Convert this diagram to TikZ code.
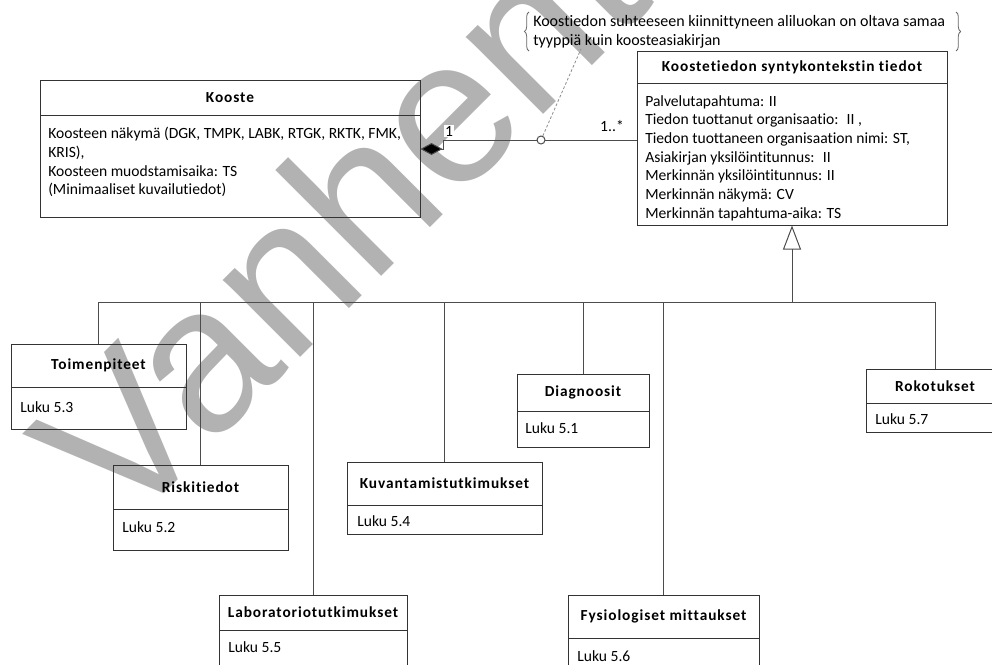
\documentclass[tikz,border=0pt]{standalone}
\usepackage{fontspec}
\setmainfont{Carlito}[Ligatures=NoCommon]
\newfontfamily\titlefont{Carlito}[Ligatures=NoCommon, LetterSpace=6]
\newfontfamily\wmfont{Liberation Sans}
\usetikzlibrary{arrows.meta,fit,decorations.pathreplacing}
\tikzset{
  classbox/.style={draw=black!80, line width=0.75pt, inner sep=0pt},
  classline/.style={draw=black!80, line width=0.75pt},
  titletext/.style={font=\titlefont\bfseries\fontsize{11.5}{14}\selectfont, inner sep=0pt},
  bodytext/.style={font=\fontsize{11.7}{14}\selectfont, align=left, inner sep=0pt, anchor=north west},
  notetext/.style={font=\fontsize{12}{14.5}\selectfont, align=left, inner sep=0pt, anchor=north west},
  lukutext/.style={font=\fontsize{11.7}{14}\selectfont, inner sep=0pt, anchor=west},
  conn/.style={draw=black!70, line width=0.75pt},
  dashline/.style={draw=black!45, line width=0.6pt, dash pattern=on 2pt off 1.5pt},
  bracestyle/.style={draw=black!60, line width=0.6pt, decorate, decoration={brace, amplitude=3.5pt}},
  mult/.style={font=\fontsize{11.7}{14}\selectfont, inner sep=1pt, fill=white},
  watermark/.style={font=\wmfont\fontsize{155}{155}\selectfont, text=black!30, rotate=45, anchor=base west, inner sep=0pt}
}
\newcommand{\umlclass}[7]{%
  \node[classbox, fit={(#2,#3) (#4,#5)}] (#1) {};
  \draw[classline] (#2,#6) -- (#4,#6);
  \node[titletext] (#1-title) at ({(#2+#4)/2},{(#3+#6)/2}) {#7};
}
\begin{document}
\begin{tikzpicture}[x=0.75pt, y=-0.75pt]
\useasboundingbox (0,0) rectangle (992,664);
\clip (0,0) rectangle (992,664);
% watermark
\node[watermark] (wm) at (122,536) {Vanhentunut};

% main classes
\umlclass{kooste}{40}{80}{420}{217}{115}{Kooste}
\node[bodytext] (kooste-body) at (48,127) {Koosteen näkymä (DGK, TMPK, LABK, RTGK, RKTK, FMK,\\KRIS),\\Koosteen muodstamisaika: TS\\(Minimaaliset kuvailutiedot)};

\umlclass{syn}{637}{51}{947}{225}{83}{Koostetiedon syntykontekstin tiedot}
\node[bodytext] (syn-body) at (645,95) {Palvelutapahtuma: II\\Tiedon tuottanut organisaatio:~ II ,\\Tiedon tuottaneen organisaation nimi: ST,\\Asiakirjan yksilöintitunnus:~ II\\Merkinnän yksilöintitunnus: II\\Merkinnän näkymä: CV\\Merkinnän tapahtuma-aika: TS};

% subclasses
\umlclass{toim}{11}{344}{186}{429}{387}{Toimenpiteet}
\node[lukutext] (toim-luku) at (20,407) {Luku 5.3};
\umlclass{risk}{113}{465}{288}{550}{509}{Riskitiedot}
\node[lukutext] (risk-luku) at (122,527) {Luku 5.2};
\umlclass{kuva}{347}{462}{542}{534}{505}{Kuvantamistutkimukset}
\node[lukutext] (kuva-luku) at (357,521) {Luku 5.4};
\umlclass{lab}{219}{595}{407}{690}{630}{Laboratoriotutkimukset}
\node[lukutext] (lab-luku) at (228,647) {Luku 5.5};
\umlclass{diag}{517}{374}{649}{447}{411}{Diagnoosit}
\node[lukutext] (diag-luku) at (525,428) {Luku 5.1};
\umlclass{fys}{568}{595}{759}{690}{638}{Fysiologiset mittaukset}
\node[lukutext] (fys-luku) at (577,656) {Luku 5.6};
\umlclass{roko}{866}{369}{1004}{432}{403}{Rokotukset}
\node[lukutext] (roko-luku) at (875,419) {Luku 5.7};

% generalization
\coordinate (g) at (792,302);
\foreach \c in {toim,risk,lab,kuva,diag,fys,roko} {\draw[conn] (\c.north) |- (g);}
\draw[conn, -{Triangle[open, length=18pt, width=13.5pt]}] (g) -- (syn.south);

% aggregation
\coordinate (y149) at (0,149);
\coordinate (y140) at (0,140);
\draw[conn, {Diamond[length=16.5pt, width=9pt, fill=black]}-] (kooste.east |- y149) -- (443,149) -- (443,140) -- (syn.west |- y140);
\node[mult] (m1) at (449,131) {1};
\node[mult, fill=none] (mn) at (612,126) {1..*};

% note
\node[notetext] (note) at (533,15) {Koostiedon suhteeseen kiinnittyneen aliluokan on oltava samaa\\tyyppiä kuin koosteasiakirjan};
\draw[bracestyle] (529,51) -- (529,12);
\draw[bracestyle] (956,12) -- (956,51);
\coordinate (nt) at (581,49);
\node[circle, draw=black!70, line width=0.75pt, fill=white, minimum size=6pt, inner sep=0pt] (q) at (541,140) {};
\draw[dashline] (q) -- (nt);
\end{tikzpicture}
\end{document}
